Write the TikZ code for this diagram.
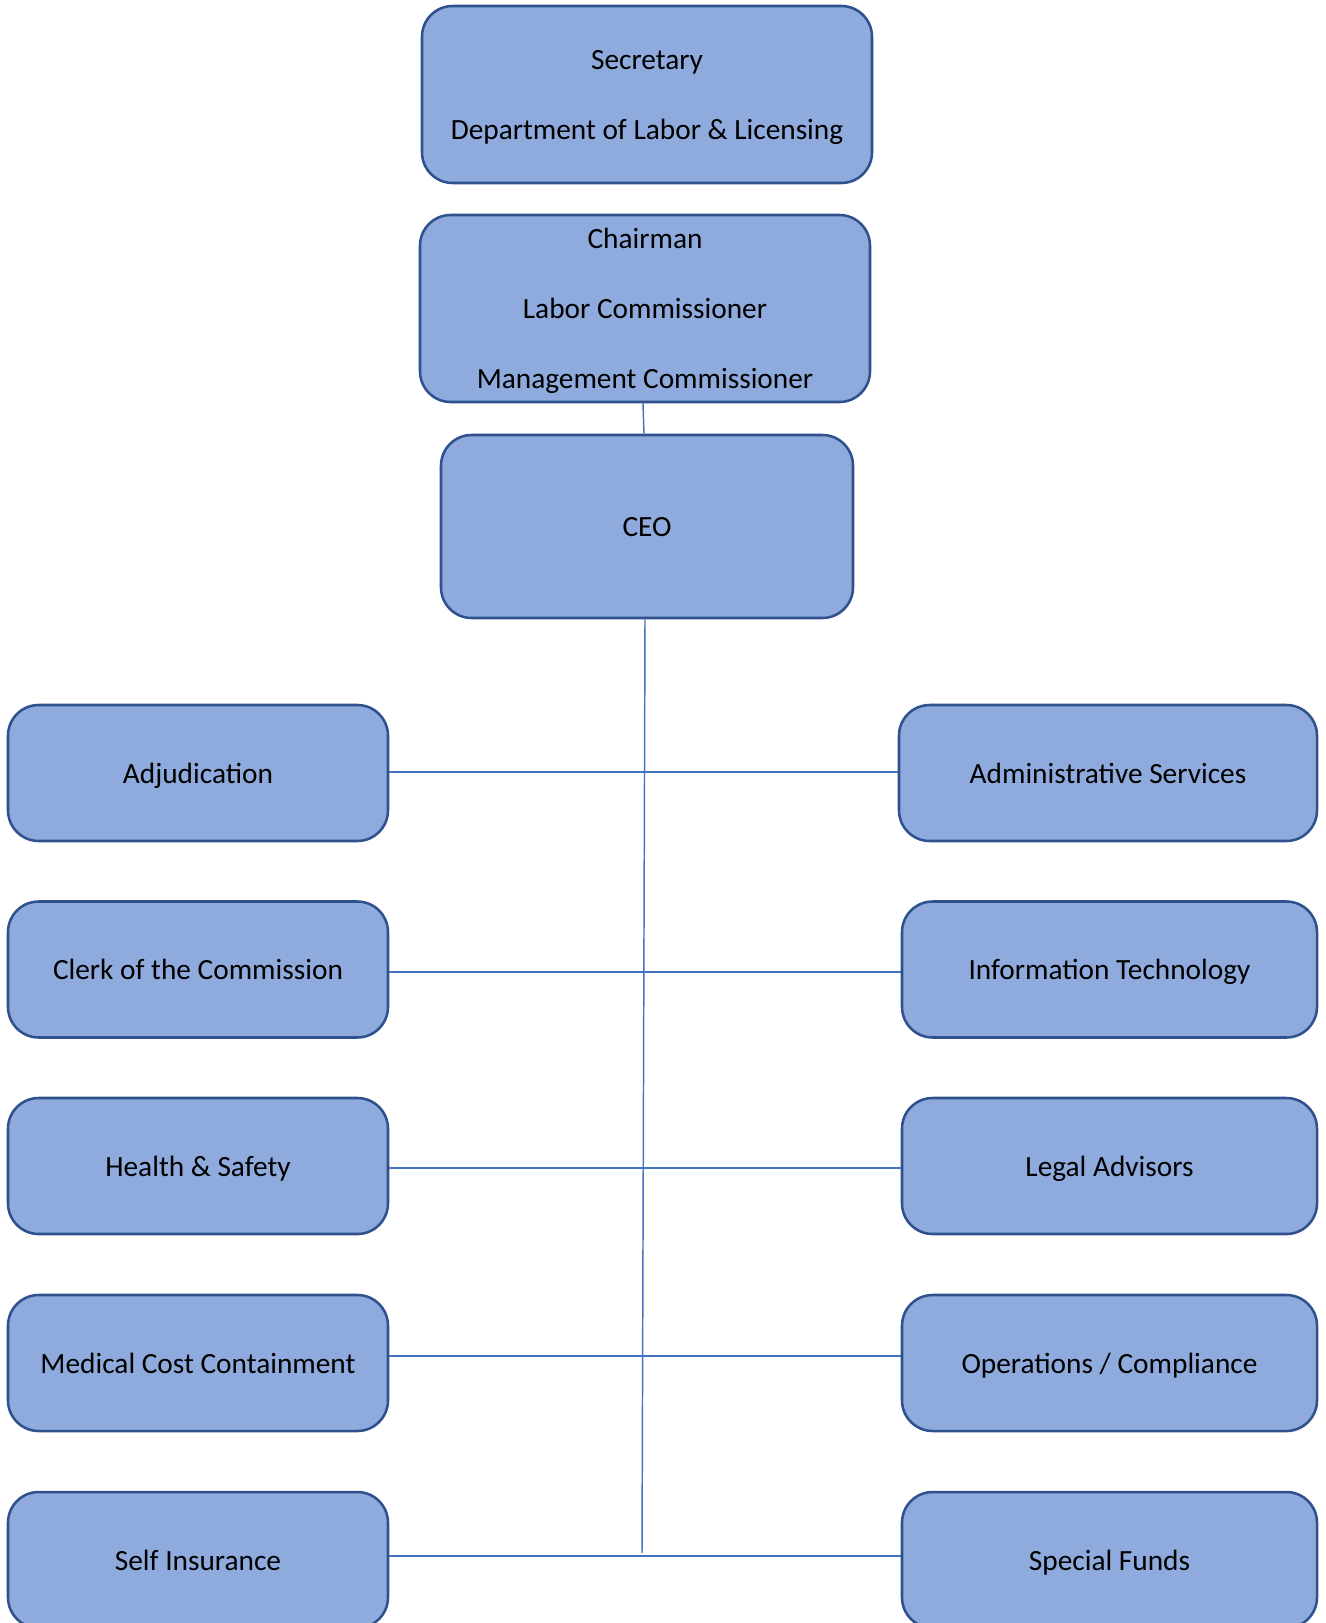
\documentclass[tikz,border=0pt]{standalone}
\usepackage{fontspec}
\setmainfont{Carlito}
\definecolor{boxfill}{HTML}{8FAADC}
\definecolor{boxdraw}{HTML}{2F528F}
\definecolor{linkcol}{HTML}{4472C4}
\newcommand\firstln{\rule{0pt}{15pt}}
\begin{document}
\begin{tikzpicture}[x=0.75pt,y=-0.75pt,
  basebox/.style={draw=boxdraw,fill=boxfill,line width=1.9pt,rounded corners=23pt,
    align=center,inner sep=0pt,font=\fontsize{22}{52.5}\selectfont},
  orgbox/.style={basebox,text height=15pt,text depth=0pt},
  link/.style={draw=linkcol,line width=1.1pt}]
\path[use as bounding box,clip] (0,0) rectangle (1325,1623);
\fill[white] (0,0) rectangle (1325,1623);
% top
\node[basebox,minimum width=450*0.75pt,minimum height=177*0.75pt] (sec) at (647,94.5)
  {\firstln\smash{Secretary}\\\smash{Department of Labor \& Licensing}};
\node[basebox,minimum width=450*0.75pt,minimum height=187*0.75pt] (chair) at (645,308.5)
  {\firstln\smash{Chairman}\\\smash{Labor Commissioner}\\\smash{Management Commissioner}};
\node[orgbox,minimum width=412*0.75pt,minimum height=183*0.75pt] (ceo) at (647,526.5) {CEO};
% left column
\begin{scope}[every node/.append style={orgbox,minimum width=380*0.75pt,minimum height=136*0.75pt}]
\node (adj) at (198,773) {Adjudication};
\node (clerk) at (198,969.5) {Clerk of the Commission};
\node (hs) at (198,1166) {Health \& Safety};
\node (mcc) at (198,1363) {Medical Cost Containment};
\node (si) at (198,1560) {Self Insurance};
\end{scope}
% right column
\node[orgbox,minimum width=418*0.75pt,minimum height=136*0.75pt] (adm) at (1108,773) {Administrative Services};
\begin{scope}[every node/.append style={orgbox,minimum width=415*0.75pt,minimum height=136*0.75pt}]
\node (it) at (1109.5,969.5) {Information Technology};
\node (legal) at (1109.5,1166) {Legal Advisors};
\node (ops) at (1109.5,1363) {Operations / Compliance};
\node (sf) at (1109.5,1560) {Special Funds};
\end{scope}
% connectors
\coordinate (vend) at (642,1553);
\draw[link] ([xshift=-1.5pt]chair.south) -- ([xshift=-2.25pt]ceo.north);
\draw[link] ([xshift=-1.5pt]ceo.south) -- (vend);
\draw[link] ([yshift=0.75pt]adj.east) -- ([yshift=0.75pt]adm.west);
\draw[link] ([yshift=-1.9pt]clerk.east) -- ([yshift=-1.9pt]it.west);
\draw[link] ([yshift=-1.5pt]hs.east) -- ([yshift=-1.5pt]legal.west);
\draw[link] ([yshift=5.25pt]mcc.east) -- ([yshift=5.25pt]ops.west);
\draw[link] ([yshift=3pt]si.east) -- ([yshift=3pt]sf.west);
\end{tikzpicture}
\end{document}
